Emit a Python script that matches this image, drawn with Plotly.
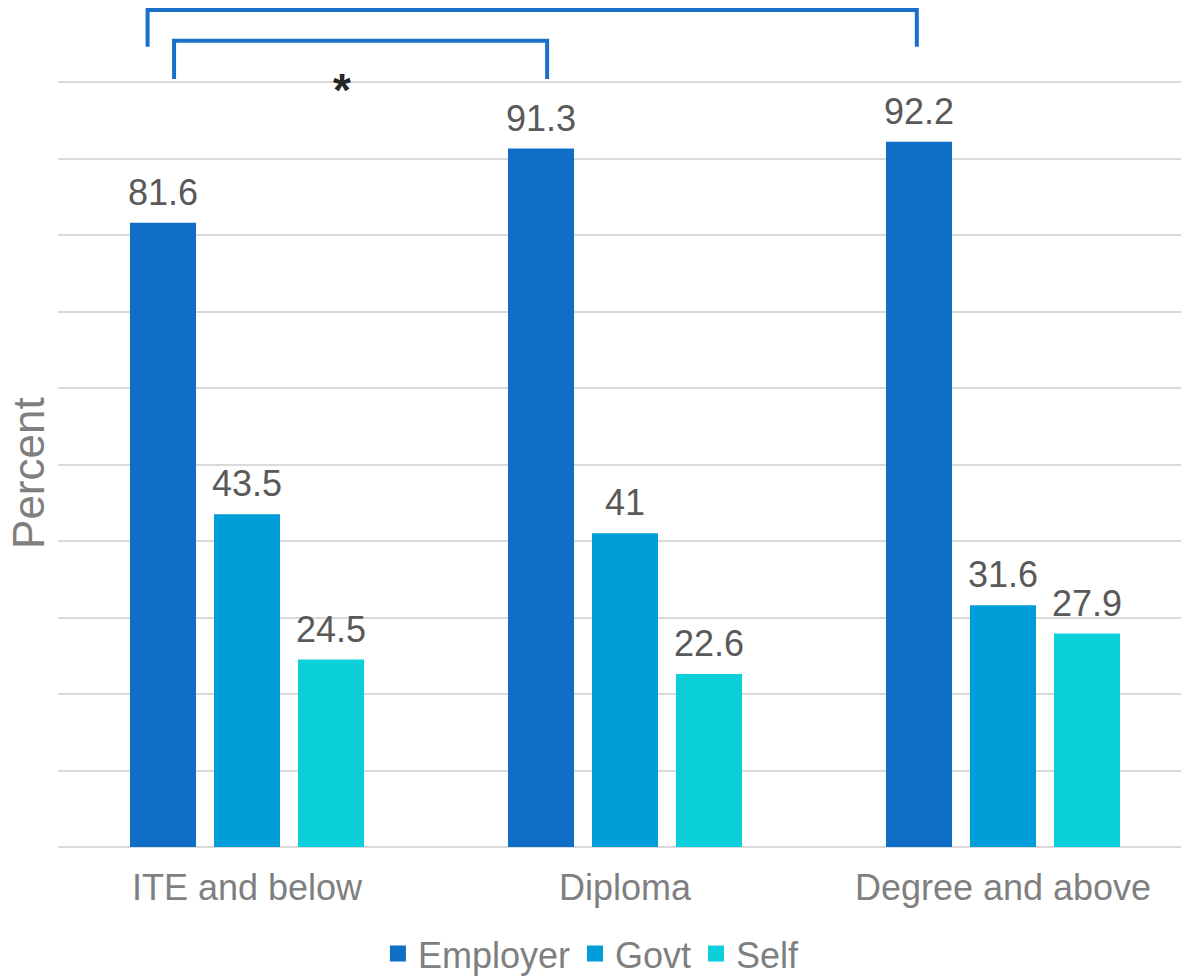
import plotly.graph_objects as go

# Education level categories and the share (%) citing each source
categories = ["ITE and below", "Diploma", "Degree and above"]
series_names = ["Employer", "Govt", "Self"]
employer = [81.6, 91.3, 92.2]
govt = [43.5, 41, 31.6]
self_funded = [24.5, 22.6, 27.9]
series_values = [employer, govt, self_funded]
colors = ["#0F6FC6", "#009DD9", "#0BD0D9"]

GRAY_TEXT = "#7F7F7F"
LABEL_TEXT = "#595959"
GRID = "#D9D9D9"
FONT = "Liberation Sans, Arial, sans-serif"

BARGAP = 1 / 3
BARGROUPGAP = 0.214
xpos = list(range(len(categories)))

fig = go.Figure()
for name, vals, col in zip(series_names, series_values, colors):
    fig.add_trace(go.Bar(
        x=xpos, y=vals, name=name, showlegend=False,
        marker=dict(color=col, line=dict(width=0)),
    ))
# legend entries with larger square swatches
for name, col in zip(series_names, colors):
    fig.add_trace(go.Scatter(
        x=[None], y=[None], name=name, mode="markers",
        marker=dict(symbol="square", size=19, color=col),
    ))

# value labels above each bar, positioned from the group offsets
slot = (1 - BARGAP) / len(series_names)
annotations = []
for k, vals in enumerate(series_values):
    off = (k - (len(series_names) - 1) / 2) * slot
    for i, v in enumerate(vals):
        annotations.append(dict(
            x=i + off, y=v, xref="x", yref="y",
            text=f"{v:g}", showarrow=False,
            yanchor="bottom", yshift=8,
            font=dict(family=FONT, size=36, color=LABEL_TEXT),
        ))

# significance marker
annotations.append(dict(
    x=0.251, y=98.9, xref="x", yref="y", text="*", showarrow=False,
    yanchor="middle", font=dict(family=FONT, size=46, color="#262626", weight="bold"),
))

# y-axis title
annotations.append(dict(
    x=-0.0258, y=48.9, xref="paper", yref="y", text="Percent", showarrow=False,
    textangle=-90, xanchor="center", yanchor="middle",
    font=dict(family=FONT, size=44, color=GRAY_TEXT),
))

# comparison brackets
BRACKET = "#1A6FC7"
brackets = [
    (-0.263, 1.772, 104.6, 109.4),
    (-0.193, 0.794, 100.4, 105.4),
]
shapes = []
for x0, x1, yb, yt in brackets:
    shapes.append(dict(
        type="path", xref="x", yref="y",
        path=f"M {x0},{yb} L {x0},{yt} L {x1},{yt} L {x1},{yb}",
        line=dict(color=BRACKET, width=4),
    ))

fig.update_layout(
    width=1181, height=977,
    margin=dict(l=58, r=0, t=0, b=130, autoexpand=False),
    paper_bgcolor="white", plot_bgcolor="white",
    barmode="group", bargap=BARGAP, bargroupgap=BARGROUPGAP,
    font=dict(family=FONT, size=36, color=GRAY_TEXT),
    showlegend=True,
    legend=dict(
        orientation="h", x=0.475, xanchor="center", y=-0.126, yanchor="middle",
        font=dict(family=FONT, size=36, color=GRAY_TEXT),
        tracegroupgap=0,
    ),
    annotations=annotations,
    shapes=shapes,
)
fig.update_xaxes(
    range=[-0.5, -0.5 + 1123 / 378],
    tickmode="array", tickvals=xpos, ticktext=categories,
    showgrid=False, zeroline=False, showline=False, ticks="",
    ticklabelstandoff=16, automargin=False,
    tickfont=dict(family=FONT, size=36, color=GRAY_TEXT),
)
fig.update_yaxes(
    range=[0, 847 / 7.65],
    tickmode="array", tickvals=list(range(0, 101, 10)),
    showticklabels=False, showgrid=True, gridcolor=GRID, gridwidth=2,
    zeroline=True, zerolinecolor=GRID, zerolinewidth=2,
    showline=False, ticks="", automargin=False,
)

fig.write_html("out.html")
